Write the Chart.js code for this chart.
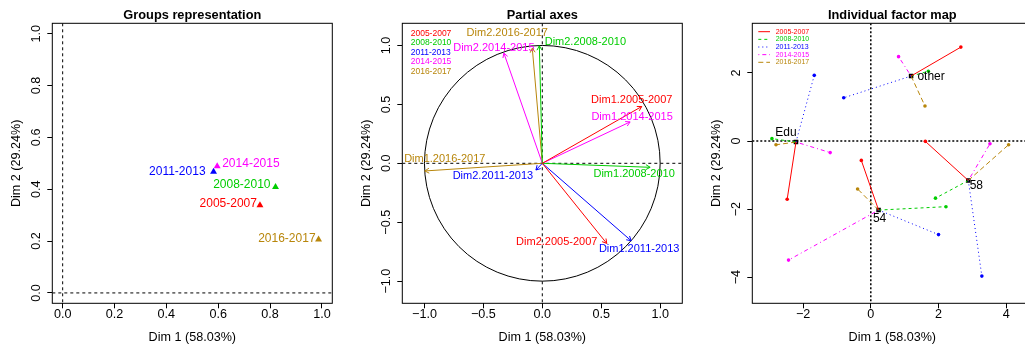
<!DOCTYPE html>
<html>
<head>
<meta charset="utf-8">
<script src="https://cdn.jsdelivr.net/npm/chart.js@4.4.1/dist/chart.umd.min.js"></script>
<style>
  body { margin: 0; background: #fff; width: 1025px; height: 350px; overflow: hidden; position: relative; }
  .panel { position: absolute; top: 0; width: 350px; height: 350px; }
</style>
</head>
<body>
<div class="panel" style="left:0"><canvas id="groups" width="350" height="350"></canvas></div>
<div class="panel" style="left:350px"><canvas id="axes" width="350" height="350"></canvas></div>
<div class="panel" style="left:700px"><canvas id="indiv" width="350" height="350"></canvas></div>
<script>
// periods (groups) and their colours
var periods = ['2005-2007', '2008-2010', '2011-2013', '2014-2015', '2016-2017'];
var periodColors = ['#FF0000', '#00CD00', '#0000FF', '#FF00FF', '#B8860B'];
var periodDash = [[], [3, 3], [1, 3], [1, 3, 4, 3], [5, 3]];

// groups representation
var groupDim1 = [0.761, 0.821, 0.582, 0.596, 0.987];
var groupDim2 = [0.338, 0.409, 0.467, 0.489, 0.206];

// partial axes, Dim1.<period> and Dim2.<period>
var axisDim1X = [0.844, 0.915, 0.754, 0.745, -0.997];
var axisDim1Y = [0.482, -0.034, -0.657, 0.351, -0.065];
var axisDim2X = [0.547, -0.025, -0.054, -0.326, -0.085];
var axisDim2Y = [-0.680, 0.997, -0.057, 0.935, 0.977];

// individuals (mean points) and partial points, one row per period
var individuals = ['other', 'Edu', '58', '54'];
var indDim1 = [1.19, -2.21, 2.88, 0.23];
var indDim2 = [1.91, -0.03, -1.16, -2.03];
var partDim1 = [
  [2.66, -2.47, 1.61, -0.28],
  [1.70, -2.92, 1.91, 2.22],
  [-0.80, -1.67, 3.28, 2.00],
  [0.82, -1.20, 3.52, -2.43],
  [1.60, -2.80, 4.07, -0.39]
];
var partDim2 = [
  [2.76, -1.71, -0.01, -0.57],
  [2.05, 0.07, -1.68, -1.93],
  [1.27, 1.93, -3.97, -2.75],
  [2.48, -0.34, -0.08, -3.50],
  [1.03, -0.11, -0.11, -1.41]
];

// tick values
var ticksGroups = [0, 0.2, 0.4, 0.6, 0.8, 1.0];
var ticksAxes = [-1, -0.5, 0, 0.5, 1];
var ticksIndX = [-2, 0, 2, 4];
var ticksIndY = [-4, -2, 0, 2];

// label placement (pixels) -- style only
var groupLabelPos = [['right', -3, -2], ['right', -5, -2], ['right', -8, 0], ['left', 5, -2], ['right', -3, -1]];
var dim1LabelOff = [[-10, -7], [-16, 7], [8, 8], [2, -5], [20, -12]];
var dim2LabelOff = [[-50, -1], [46, -4], [-43, 6], [-10, -5], [-25, -15]];
var indLabelOff = [[20, 1], [-10, -9], [8, 5], [1, 9]];

var FONT = '"Liberation Sans", Arimo, Arial, sans-serif';
var AXIS_PX = 12.6;
var xTitle = 'Dim 1 (58.03%)';
var yTitle = 'Dim 2 (29.24%)';

function minus(s) { return s.replace('-', '\u2212'); }

function axis(min, max, values, fmt, isY) {
  return {
    type: 'linear', min: min, max: max,
    afterBuildTicks: function (s) { s.ticks = values.map(function (v) { return { value: v }; }); },
    afterFit: function (s) { if (isY) s.width = 52.3; else s.height = 46.7; },
    grid: { drawOnChartArea: false, drawTicks: true, tickLength: 5, color: '#000', lineWidth: 1 },
    border: { display: false },
    ticks: { display: !isY, padding: -1, color: '#000', font: { family: FONT, size: AXIS_PX },
      maxRotation: 0, autoSkip: false, callback: function (v) { return fmt(v); } }
  };
}

function frame(title, fmtY, zeroDash, zeroWidth) {
  return {
    id: 'frame',
    beforeDatasetsDraw: function (chart) {
      var ctx = chart.ctx, a = chart.chartArea;
      var x0 = chart.scales.x.getPixelForValue(0), y0 = chart.scales.y.getPixelForValue(0);
      ctx.save();
      ctx.beginPath();
      ctx.rect(a.left, a.top, a.right - a.left, a.bottom - a.top);
      ctx.clip();
      ctx.strokeStyle = '#000';
      ctx.lineWidth = zeroWidth;
      ctx.setLineDash(zeroDash);
      ctx.beginPath();
      ctx.moveTo(x0, a.top); ctx.lineTo(x0, a.bottom);
      ctx.moveTo(a.left, y0); ctx.lineTo(a.right, y0);
      ctx.stroke();
      ctx.restore();
    },
    afterDraw: function (chart) {
      var ctx = chart.ctx, a = chart.chartArea, ys = chart.scales.y;
      var cx = (a.left + a.right) / 2, cy = (a.top + a.bottom) / 2;
      ctx.save();
      ctx.strokeStyle = '#000';
      ctx.lineWidth = 1;
      ctx.strokeRect(a.left, a.top, a.right - a.left, a.bottom - a.top);
      ctx.fillStyle = '#000';
      ctx.textAlign = 'center';
      ctx.textBaseline = 'middle';
      ctx.font = 'bold 12.8px ' + FONT;
      ctx.fillText(title, cx, 15);
      ctx.font = AXIS_PX + 'px ' + FONT;
      ctx.fillText(xTitle, cx, 337.5);
      ys.ticks.forEach(function (t) {
        ctx.save();
        ctx.translate(a.left - 15.5, ys.getPixelForValue(t.value));
        ctx.rotate(-Math.PI / 2);
        ctx.fillText(fmtY(t.value), 0, 0);
        ctx.restore();
      });
      ctx.translate(a.left - 35.5, cy);
      ctx.rotate(-Math.PI / 2);
      ctx.fillText(yTitle, 0, 0);
      ctx.restore();
    }
  };
}

function baseOptions(xs, ys) {
  return {
    responsive: false, animation: false, devicePixelRatio: 1,
    layout: { padding: { left: 0, top: 23.3, right: 17.7, bottom: 0 } },
    plugins: { legend: { display: false }, tooltip: { enabled: false } },
    scales: { x: xs, y: ys }
  };
}

// ---------- Groups representation ----------
var fmt1 = function (v) { return v.toFixed(1); };
new Chart(document.getElementById('groups'), {
  type: 'scatter',
  data: { datasets: [{
    data: groupDim1.map(function (x, i) { return { x: x, y: groupDim2[i] }; }),
    pointStyle: 'triangle', pointRadius: 4, borderWidth: 0,
    pointBackgroundColor: periodColors, pointBorderColor: periodColors
  }] },
  options: baseOptions(axis(-0.04, 1.04, ticksGroups, fmt1, false), axis(-0.04, 1.04, ticksGroups, fmt1, true)),
  plugins: [frame('Groups representation', fmt1, [3, 3], 1), {
    id: 'groupLabels',
    afterDatasetsDraw: function (chart) {
      var ctx = chart.ctx, pts = chart.getDatasetMeta(0).data;
      ctx.save();
      ctx.font = '12px ' + FONT;
      ctx.textBaseline = 'middle';
      pts.forEach(function (p, i) {
        var pos = groupLabelPos[i];
        ctx.fillStyle = periodColors[i];
        ctx.textAlign = pos[0];
        ctx.fillText(periods[i], p.x + pos[1], p.y + pos[2]);
      });
      ctx.restore();
    }
  }]
});

// ---------- Partial axes ----------
var fmt2 = function (v) { return minus(v.toFixed(1)); };
var axisSets = [], axisLabels = [];
periods.forEach(function (p, i) {
  axisSets.push({ data: [{ x: 0, y: 0 }, { x: axisDim1X[i], y: axisDim1Y[i] }], borderColor: periodColors[i] });
  axisLabels.push(['Dim1.' + p, periodColors[i], dim1LabelOff[i]]);
  axisSets.push({ data: [{ x: 0, y: 0 }, { x: axisDim2X[i], y: axisDim2Y[i] }], borderColor: periodColors[i] });
  axisLabels.push(['Dim2.' + p, periodColors[i], dim2LabelOff[i]]);
});
axisSets.forEach(function (d) { d.showLine = true; d.borderWidth = 1; d.pointRadius = 0; });

new Chart(document.getElementById('axes'), {
  type: 'scatter',
  data: { datasets: axisSets },
  options: baseOptions(axis(-1.188, 1.188, ticksAxes, fmt2, false), axis(-1.188, 1.188, ticksAxes, fmt2, true)),
  plugins: [frame('Partial axes', fmt2, [3, 3], 1), {
    id: 'circle',
    beforeDatasetsDraw: function (chart) {
      var xs = chart.scales.x, ys = chart.scales.y, ctx = chart.ctx;
      var r = xs.getPixelForValue(1) - xs.getPixelForValue(0);
      ctx.save();
      ctx.strokeStyle = '#000';
      ctx.lineWidth = 1;
      ctx.beginPath();
      ctx.arc(xs.getPixelForValue(0), ys.getPixelForValue(0), r, 0, Math.PI * 2);
      ctx.stroke();
      ctx.restore();
    },
    afterDatasetsDraw: function (chart) {
      var ctx = chart.ctx, a = chart.chartArea;
      ctx.save();
      chart.data.datasets.forEach(function (d, i) {
        var pts = chart.getDatasetMeta(i).data;
        var x0 = pts[0].x, y0 = pts[0].y, x1 = pts[1].x, y1 = pts[1].y;
        var ang = Math.atan2(y1 - y0, x1 - x0), len = 5;
        ctx.strokeStyle = d.borderColor;
        ctx.lineWidth = 1;
        ctx.beginPath();
        ctx.moveTo(x1 - len * Math.cos(ang - Math.PI / 6), y1 - len * Math.sin(ang - Math.PI / 6));
        ctx.lineTo(x1, y1);
        ctx.lineTo(x1 - len * Math.cos(ang + Math.PI / 6), y1 - len * Math.sin(ang + Math.PI / 6));
        ctx.stroke();
        var lab = axisLabels[i];
        ctx.font = '11px ' + FONT;
        ctx.fillStyle = lab[1];
        ctx.textAlign = 'center';
        ctx.textBaseline = 'middle';
        ctx.fillText(lab[0], x1 + lab[2][0], y1 + lab[2][1]);
      });
      ctx.font = '8.5px ' + FONT;
      ctx.textAlign = 'left';
      periods.forEach(function (p, i) {
        ctx.fillStyle = periodColors[i];
        ctx.fillText(p, a.left + 8.4, a.top + 10 + i * 9.6);
      });
      ctx.restore();
    }
  }]
});

// ---------- Individual factor map ----------
var fmt3 = function (v) { return minus(String(v)); };
var indSets = [];
periods.forEach(function (p, k) {
  individuals.forEach(function (name, j) {
    indSets.push({
      data: [{ x: indDim1[j], y: indDim2[j] }, { x: partDim1[k][j], y: partDim2[k][j] }],
      showLine: true, borderColor: periodColors[k], borderWidth: 1, borderDash: periodDash[k],
      pointRadius: [0, 1.8], pointBackgroundColor: periodColors[k], pointBorderWidth: 0
    });
  });
});
indSets.push({
  data: indDim1.map(function (x, j) { return { x: x, y: indDim2[j] }; }),
  pointStyle: 'rect', pointRadius: 3.2, pointBackgroundColor: '#000', pointBorderWidth: 0
});

new Chart(document.getElementById('indiv'), {
  type: 'scatter',
  data: { datasets: indSets },
  options: baseOptions(axis(-3.5, 4.77, ticksIndX, fmt3, false), axis(-4.77, 3.46, ticksIndY, fmt3, true)),
  plugins: [frame('Individual factor map', fmt3, [2, 2], 1.5), {
    id: 'indLabels',
    afterDatasetsDraw: function (chart) {
      var ctx = chart.ctx, a = chart.chartArea;
      var pts = chart.getDatasetMeta(indSets.length - 1).data;
      ctx.save();
      ctx.font = '12px ' + FONT;
      ctx.fillStyle = '#000';
      ctx.textAlign = 'center';
      ctx.textBaseline = 'middle';
      pts.forEach(function (p, j) {
        ctx.fillText(individuals[j], p.x + indLabelOff[j][0], p.y + indLabelOff[j][1]);
      });
      ctx.font = '7px ' + FONT;
      ctx.textAlign = 'left';
      periods.forEach(function (p, k) {
        var y = a.top + 8.4 + k * 7.65;
        ctx.strokeStyle = periodColors[k];
        ctx.lineWidth = 1;
        ctx.setLineDash(periodDash[k]);
        ctx.beginPath();
        ctx.moveTo(a.left + 6, y); ctx.lineTo(a.left + 17.7, y);
        ctx.stroke();
        ctx.fillStyle = periodColors[k];
        ctx.fillText(p, a.left + 23.4, y);
      });
      ctx.restore();
    }
  }]
});
</script>
</body>
</html>
